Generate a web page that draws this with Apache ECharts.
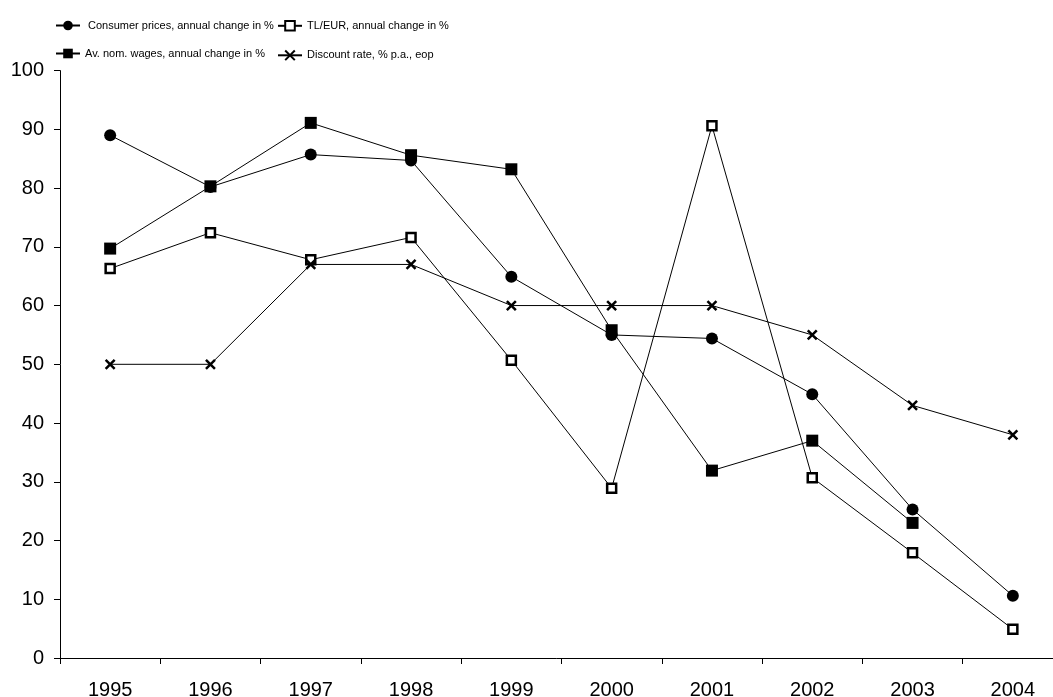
<!DOCTYPE html>
<html>
<head>
<meta charset="utf-8">
<script src="https://cdn.jsdelivr.net/npm/echarts@6/dist/echarts.min.js"></script>
<style>
  html, body { margin: 0; padding: 0; background: #fff; }
  #chart { width: 1053px; height: 697px; }
</style>
</head>
<body>
<div id="chart"></div>
<script>
const years = ['1995', '1996', '1997', '1998', '1999', '2000', '2001', '2002', '2003', '2004']
const consumerPrices = [89.0, 80.2, 85.7, 84.7, 64.9, 55.0, 54.4, 44.9, 25.3, 10.6]
const tlEur = [66.3, 72.4, 67.8, 71.6, 50.7, 28.9, 90.6, 30.7, 17.9, 4.9]
const wages = [69.7, 80.3, 91.1, 85.6, 83.2, 55.8, 31.9, 37.0, 23.0, null]
const discountRate = [50, 50, 67, 67, 60, 60, 60, 55, 43, 38]

const names = [
  'Consumer prices, annual change in %',
  'TL/EUR, annual change in %',
  'Av. nom. wages, annual change in %',
  'Discount rate, % p.a., eop',
]

const crossPath = 'path://M0,0L10,10M10,0L0,10'
const fontFamily = "'Liberation Sans', Arial, sans-serif"

const makeLegend = (name, left, top, padLeft) => ({
  data: [name],
  left,
  top,
  padding: 0,
  itemWidth: 24,
  itemHeight: 12,
  textStyle: {
    color: '#000',
    fontSize: 11,
    fontFamily,
    padding: [0, 0, 0, padLeft],
  },
})

const chart = echarts.init(document.getElementById('chart'))

chart.setOption({
  animation: false,
  backgroundColor: '#fff',
  textStyle: { fontFamily },
  legend: [
    makeLegend(names[0], 55, 20, 3),
    makeLegend(names[1], 277, 20, 0),
    makeLegend(names[2], 55, 48, 0),
    makeLegend(names[3], 277, 48, 0),
  ],
  grid: {
    left: 60,
    top: 70.6,
    bottom: 39,
    right: -10,
    containLabel: false,
    outerBoundsMode: 'none',
  },
  xAxis: {
    type: 'category',
    data: years,
    boundaryGap: true,
    axisLine: { lineStyle: { color: '#000', width: 1 } },
    axisTick: { show: true, length: 6, lineStyle: { color: '#000' } },
    axisLabel: { color: '#000', fontSize: 20, margin: 22 },
    splitLine: { show: false },
  },
  yAxis: {
    type: 'value',
    min: 0,
    max: 100,
    interval: 10,
    axisLine: { show: true, lineStyle: { color: '#000', width: 1 } },
    axisTick: { show: true, length: 6, lineStyle: { color: '#000' } },
    axisLabel: { color: '#000', fontSize: 20, margin: 16 },
    splitLine: { show: false },
  },
  series: [
    {
      name: names[0],
      type: 'line',
      data: consumerPrices,
      symbol: 'circle',
      symbolSize: 12,
      lineStyle: { color: '#000', width: 1 },
      itemStyle: { color: '#000' },
    },
    {
      name: names[1],
      type: 'line',
      data: tlEur,
      symbol: 'rect',
      symbolSize: 9,
      lineStyle: { color: '#000', width: 1 },
      itemStyle: { color: '#fff', borderColor: '#000', borderWidth: 2.5 },
    },
    {
      name: names[2],
      type: 'line',
      data: wages,
      symbol: 'rect',
      symbolSize: 12,
      lineStyle: { color: '#000', width: 1 },
      itemStyle: { color: '#000' },
    },
    {
      name: names[3],
      type: 'line',
      data: discountRate,
      symbol: crossPath,
      symbolSize: 9,
      lineStyle: { color: '#000', width: 1 },
      itemStyle: { color: 'none', borderColor: '#000', borderWidth: 2.5 },
    },
  ],
})
</script>
</body>
</html>
